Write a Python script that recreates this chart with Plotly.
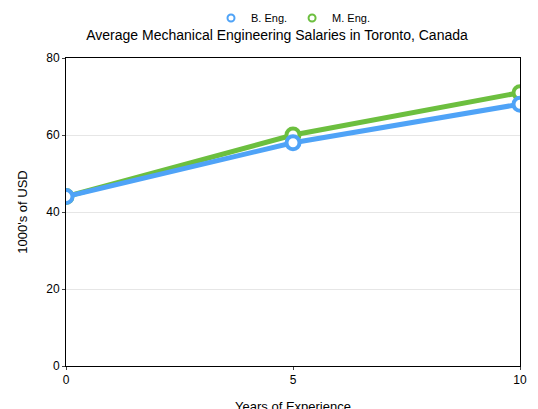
import plotly.graph_objects as go

years = [0, 5, 10]
b_eng = [44, 58, 68]
m_eng = [44, 60, 71]

blue = '#4fa3f7'
green = '#6cbf3f'

fig = go.Figure()
fig.add_trace(go.Scatter(x=years, y=m_eng, name='M. Eng.', mode='lines+markers', showlegend=False,
                         line=dict(color=green, width=5),
                         marker=dict(size=13, color='white', line=dict(color=green, width=4))))
fig.add_trace(go.Scatter(x=years, y=b_eng, name='B. Eng.', mode='lines+markers', showlegend=False,
                         line=dict(color=blue, width=5),
                         marker=dict(size=13, color='white', line=dict(color=blue, width=4))))
# legend-only entries with small open markers
for name, col in [('B. Eng.', blue), ('M. Eng.', green)]:
    fig.add_trace(go.Scatter(x=[None], y=[None], name=name, mode='markers',
                             marker=dict(size=7, color='white', line=dict(color=col, width=2))))

fig.update_layout(
    width=538, height=409,
    paper_bgcolor='white', plot_bgcolor='white',
    font=dict(family='Liberation Sans, Arial', size=12, color='black'),
    title=dict(text='Average Mechanical Engineering Salaries in Toronto, Canada',
               x=0.5, xanchor='center', yref='container', y=1 - 27 / 409, yanchor='middle',
               font=dict(size=14)),
    legend=dict(orientation='h', x=0.5, xanchor='center', yref='container', y=1 - 10 / 409,
                yanchor='middle', font=dict(size=11), itemwidth=30),
    margin=dict(l=58, r=26, t=50, b=51, autoexpand=False),
    showlegend=True,
)
fig.update_xaxes(range=[0, 10], tickvals=years, showgrid=False, showline=True,
                 linecolor='black', mirror=True, ticks='outside', ticklen=3,
                 title=dict(text='Years of Experience', font=dict(size=13)), zeroline=False)
fig.update_yaxes(range=[0, 80], dtick=20, showgrid=True, gridcolor='#e6e6e6', showline=True,
                 linecolor='black', mirror=True, ticks='outside', ticklen=3,
                 title=dict(text="1000's of USD", font=dict(size=13)), zeroline=False)

fig.write_html('out.html')
